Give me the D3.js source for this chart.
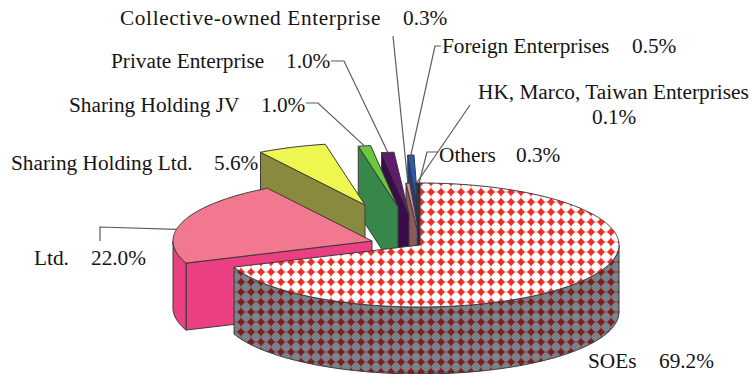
<!DOCTYPE html>
<html>
<head>
<meta charset="utf-8">
<script src="https://cdn.jsdelivr.net/npm/d3@7"></script>
<style>
html,body{margin:0;padding:0;background:#fff;overflow:hidden}
text{font-family:"Liberation Serif","Times New Roman",serif;font-size:21.3px;fill:#151515}
</style>
</head>
<body>
<script>
// Ownership shares, in pie order clockwise from twelve o'clock
const categories = ["SOEs","Ltd.","Sharing Holding Ltd.","Sharing Holding JV","Private Enterprise",
  "Collective-owned Enterprise","Foreign Enterprises","HK, Marco, Taiwan Enterprises","Others"];
const shares = [69.2,22.0,5.6,1.0,1.0,0.3,0.5,0.1,0.3];
const shareLabels = ["69.2%","22.0%","5.6%","1.0%","1.0%","0.3%","0.5%","0.1%","0.3%"];
const topColors  = ["url(#topHatch)","#f1788f","#eef650","#6cc83e","#5f1c6c","#e8888c","#2a5cb2","#22305e","#1c2850"];
const wallColors = ["url(#wallHatch)","#ea3f80","#8a8a3e","#38874a","#3a0c4a","#8c5a58","#1f3f80","#1c2850","#1c2850"];

// Exploded wedge apex for each slice
const apexX = [420,372,365,398,409,421,419,421,421];
const apexY = [245,241,205,207,214,245,217,245,245];
// Painter's order, back to front
const drawOrder = [6,7,5,8,4,3,2,1,0];

// Label placement: name x, value x, baseline y (HK value sits on its own line)
const nameX  = [588,34,11,69,111,120,442,478,439];
const valueX = [659,91,214,261,286,403,632,592,516];
const nameY  = [368,265,170,112,68,25,53,99,162];
const valueY = [368,265,170,112,68,25,53,124,162];
const nameSpacing = [0,0,0,0,0,0.62,0,0,0];
// Leader lines: start point and optional elbow, ending on the slice's rim
const leaderStart = [null,[100,241],null,[306,103],[331,61],[393,36],[441,46],[470,105],[438,152]];
const leaderElbow = [null,[100,227],null,[318,103],[344,61],null,[435,46],null,[427,152]];

const W = 751, H = 374, RX = 199, RY = 62, DEPTH = 67;

const svg = d3.select("body").append("svg").attr("width",W).attr("height",H);
const defs = svg.append("defs");

// Diamond lattice fill used by the SOE slice
function lattice(id, bg, fg){
  const s = 10, p = defs.append("pattern").attr("id",id)
    .attr("patternUnits","userSpaceOnUse").attr("width",s).attr("height",s).attr("x",6).attr("y",7);
  p.append("rect").attr("width",s).attr("height",s).attr("fill",bg);
  const c = s/2, r = 3.9;
  p.append("path").attr("fill",fg).attr("d",`M${c},${c-r}L${c+r},${c}L${c},${c+r}L${c-r},${c}Z`);
  p.append("rect").attr("x",0).attr("y",c-0.5).attr("width",s).attr("height",1).attr("fill",fg).attr("opacity",0.45);
  p.append("rect").attr("x",c-0.5).attr("y",0).attr("width",1).attr("height",s).attr("fill",fg).attr("opacity",0.45);
}
lattice("topHatch","#ffffff","#ee2e26");
lattice("wallHatch","#7b8188","#7c1e20");

const arcs = d3.pie().sort(null).value(d=>d)(shares);
const line = d3.line();
const rim = (i,a,dy=0)=>[apexX[i]+RX*Math.sin(a), apexY[i]-RY*Math.cos(a)+dy];
const arcPts = (i,a0,a1,dy=0)=>{
  const n = Math.max(2,Math.ceil(Math.abs(a1-a0)*60));
  return d3.range(n+1).map(k=>rim(i,a0+(a1-a0)*k/n,dy));
};
const STROKE = "#3a3a3a";
const g = svg.append("g");

drawOrder.forEach(i=>{
  const {startAngle:a0,endAngle:a1} = arcs[i];
  const apex = [apexX[i],apexY[i]], low = [apexX[i],apexY[i]+DEPTH];

  // Cut face on the wedge's far edge
  if(i>0){
    g.append("path").attr("fill",wallColors[i]).attr("stroke",STROKE).attr("stroke-width",1)
      .attr("d",line([rim(i,a0),apex,low,rim(i,a0,DEPTH)])+"Z");
  }
  if(i===1){
    // Pink outer wall, from the front cut round to the leftmost point of the rim
    const back = Math.PI*1.5;
    g.append("path").attr("fill",wallColors[i]).attr("stroke",STROKE)
      .attr("d",line([...arcPts(i,a0,back),...arcPts(i,back,a0,DEPTH)])+"Z");
  }
  if(i===0){
    // Curved outer wall of the large slice, from the right extreme round to its left end
    const from = Math.PI/2;
    g.append("path").attr("fill",wallColors[i]).attr("stroke",STROKE).attr("stroke-width",1)
      .attr("d",line([...arcPts(i,from,a1),...arcPts(i,a1,from,DEPTH)])+"Z");
  }
  g.append("path").attr("fill",topColors[i]).attr("stroke",STROKE).attr("stroke-width",1)
    .attr("stroke-linejoin","round").attr("d",line([apex,...arcPts(i,a0,a1)])+"Z");
});

// Leader lines from the labels to the slice rims
const leaders = svg.append("g").attr("fill","none").attr("stroke","#5c5c5c").attr("stroke-width",1.2);
arcs.forEach((d,i)=>{
  if(!leaderStart[i]) return;
  const mid = i===1 ? Math.PI*1.56 : (d.startAngle+d.endAngle)/2;
  const pts = [leaderStart[i]];
  if(leaderElbow[i]) pts.push(leaderElbow[i]);
  pts.push(rim(i,mid));
  leaders.append("path").attr("d",line(pts));
});

// Category names and values
const labels = svg.append("g");
categories.forEach((c,i)=>{
  labels.append("text").attr("x",nameX[i]).attr("y",nameY[i]).attr("letter-spacing",nameSpacing[i]).text(c);
  labels.append("text").attr("x",valueX[i]).attr("y",valueY[i]).text(shareLabels[i]);
});
</script>
</body>
</html>
